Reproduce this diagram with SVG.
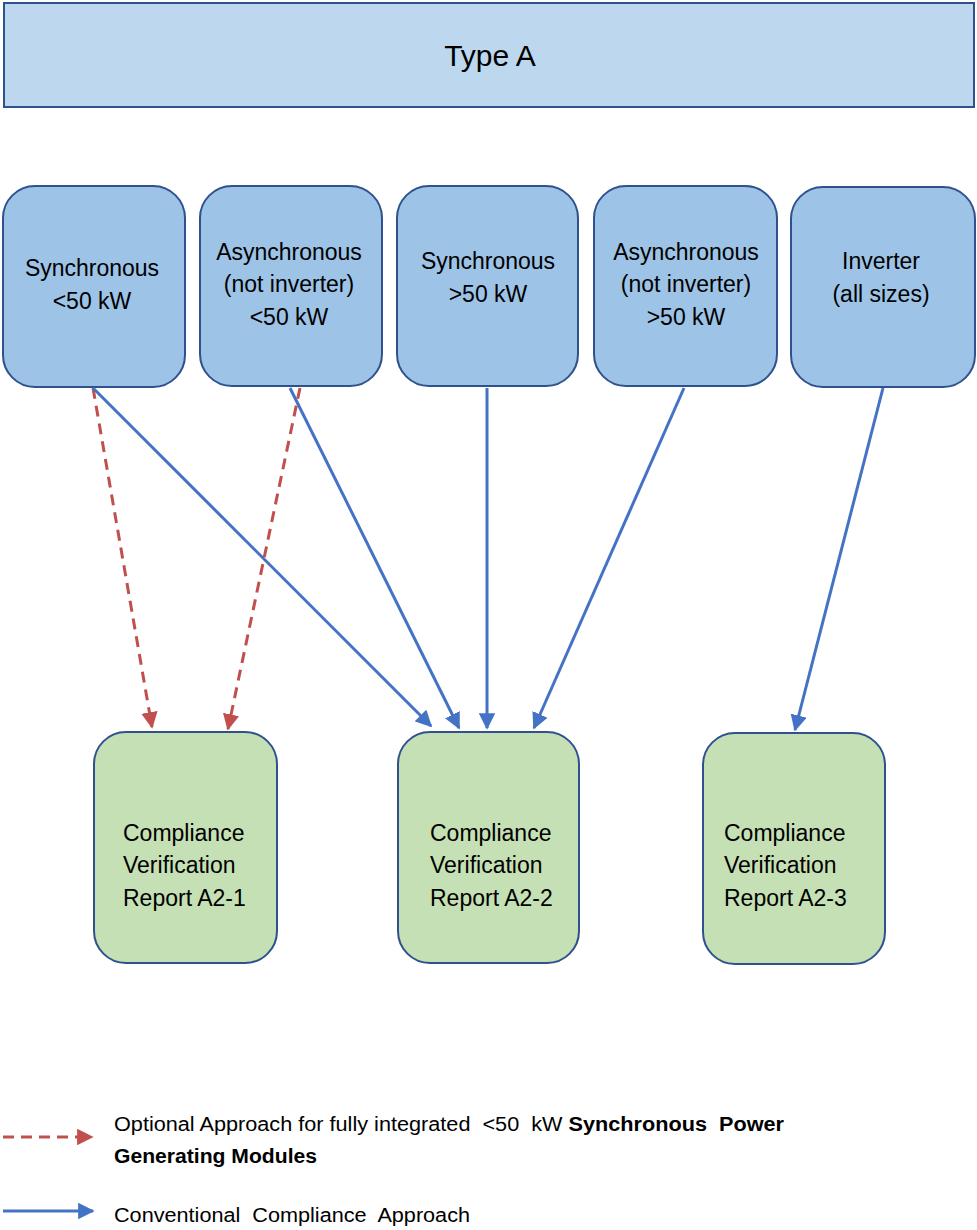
<svg xmlns="http://www.w3.org/2000/svg" width="977" height="1230" viewBox="0 0 977 1230">
<defs>
<style>
.t{font-family:"Liberation Sans",Arial,sans-serif;fill:#000}
.lg{white-space:pre}
.top{fill:#9dc3e6;stroke:#2f528f;stroke-width:2}
.bot{fill:#c5e0b4;stroke:#2f528f;stroke-width:2}
.b{stroke:#4472c4;stroke-width:3;fill:none}
.r{stroke:#c0504d;stroke-width:3;fill:none;stroke-dasharray:11 7}
</style>
<marker id="ab" viewBox="0 0 10 10" refX="9" refY="5" markerWidth="5.5" markerHeight="5.5" orient="auto" markerUnits="strokeWidth"><path d="M0,0 L10,5 L0,10 z" fill="#4472c4"/></marker>
<marker id="ar" viewBox="0 0 10 10" refX="9" refY="5" markerWidth="5.5" markerHeight="5.5" orient="auto" markerUnits="strokeWidth"><path d="M0,0 L10,5 L0,10 z" fill="#c0504d"/></marker>
</defs>
<g id="typeA"><rect x="4" y="3" width="970" height="104" fill="#bdd7ee" stroke="#2f528f" stroke-width="2"/><text class="t" x="490" y="66" font-size="30" text-anchor="middle">Type A</text></g>
<g id="n1"><rect class="top" x="3" y="186" width="182" height="201" rx="32"/><text class="t" font-size="23" text-anchor="middle"><tspan x="92" y="276">Synchronous</tspan><tspan x="92" y="309">&lt;50 kW</tspan></text></g>
<g id="n2"><rect class="top" x="200" y="186" width="182" height="200" rx="32"/><text class="t" font-size="23" text-anchor="middle"><tspan x="289" y="260">Asynchronous</tspan><tspan x="289" y="292">(not inverter)</tspan><tspan x="289" y="325">&lt;50 kW</tspan></text></g>
<g id="n3"><rect class="top" x="397" y="186" width="181" height="200" rx="32"/><text class="t" font-size="23" text-anchor="middle"><tspan x="488" y="269">Synchronous</tspan><tspan x="488" y="302">&gt;50 kW</tspan></text></g>
<g id="n4"><rect class="top" x="594" y="186" width="183" height="200" rx="32"/><text class="t" font-size="23" text-anchor="middle"><tspan x="686" y="260">Asynchronous</tspan><tspan x="686" y="292">(not inverter)</tspan><tspan x="686" y="325">&gt;50 kW</tspan></text></g>
<g id="n5"><rect class="top" x="791" y="187" width="184" height="200" rx="32"/><text class="t" font-size="23" text-anchor="middle"><tspan x="881" y="269">Inverter</tspan><tspan x="881" y="302">(all sizes)</tspan></text></g>
<g id="r1"><rect class="bot" x="94" y="732" width="183" height="231" rx="32"/><text class="t" font-size="23"><tspan x="123" y="841">Compliance</tspan><tspan x="123" y="873">Verification</tspan><tspan x="123" y="906">Report A2-1</tspan></text></g>
<g id="r2"><rect class="bot" x="398" y="732" width="181" height="231" rx="32"/><text class="t" font-size="23"><tspan x="430" y="841">Compliance</tspan><tspan x="430" y="873">Verification</tspan><tspan x="430" y="906">Report A2-2</tspan></text></g>
<g id="r3"><rect class="bot" x="703" y="733" width="182" height="231" rx="32"/><text class="t" font-size="23"><tspan x="724" y="841">Compliance</tspan><tspan x="724" y="873">Verification</tspan><tspan x="724" y="906">Report A2-3</tspan></text></g>
<g id="connectors">
<line class="r" x1="93" y1="388" x2="152" y2="727" marker-end="url(#ar)"/>
<line class="r" x1="300" y1="388" x2="228" y2="729" marker-end="url(#ar)"/>
<line class="b" x1="93" y1="388" x2="431" y2="726" marker-end="url(#ab)"/>
<line class="b" x1="290" y1="388" x2="459" y2="728" marker-end="url(#ab)"/>
<line class="b" x1="487" y1="388" x2="487" y2="728" marker-end="url(#ab)"/>
<line class="b" x1="684" y1="388" x2="534" y2="728" marker-end="url(#ab)"/>
<line class="b" x1="883" y1="388" x2="795" y2="730" marker-end="url(#ab)"/>
</g>
<g id="legend">
<line class="r" x1="3" y1="1137" x2="92" y2="1137" marker-end="url(#ar)"/>
<text class="t lg" font-size="20" x="114" y="1131" textLength="670" lengthAdjust="spacingAndGlyphs">Optional Approach for fully integrated  &lt;50  kW <tspan font-weight="bold">Synchronous  Power</tspan></text>
<text class="t" font-size="20" x="114" y="1163" font-weight="bold" textLength="203" lengthAdjust="spacingAndGlyphs">Generating Modules</text>
<line class="b" x1="3" y1="1211" x2="93" y2="1211" marker-end="url(#ab)"/>
<text class="t lg" font-size="20" x="114" y="1222" textLength="356" lengthAdjust="spacingAndGlyphs">Conventional  Compliance  Approach</text>
</g>
</svg>
